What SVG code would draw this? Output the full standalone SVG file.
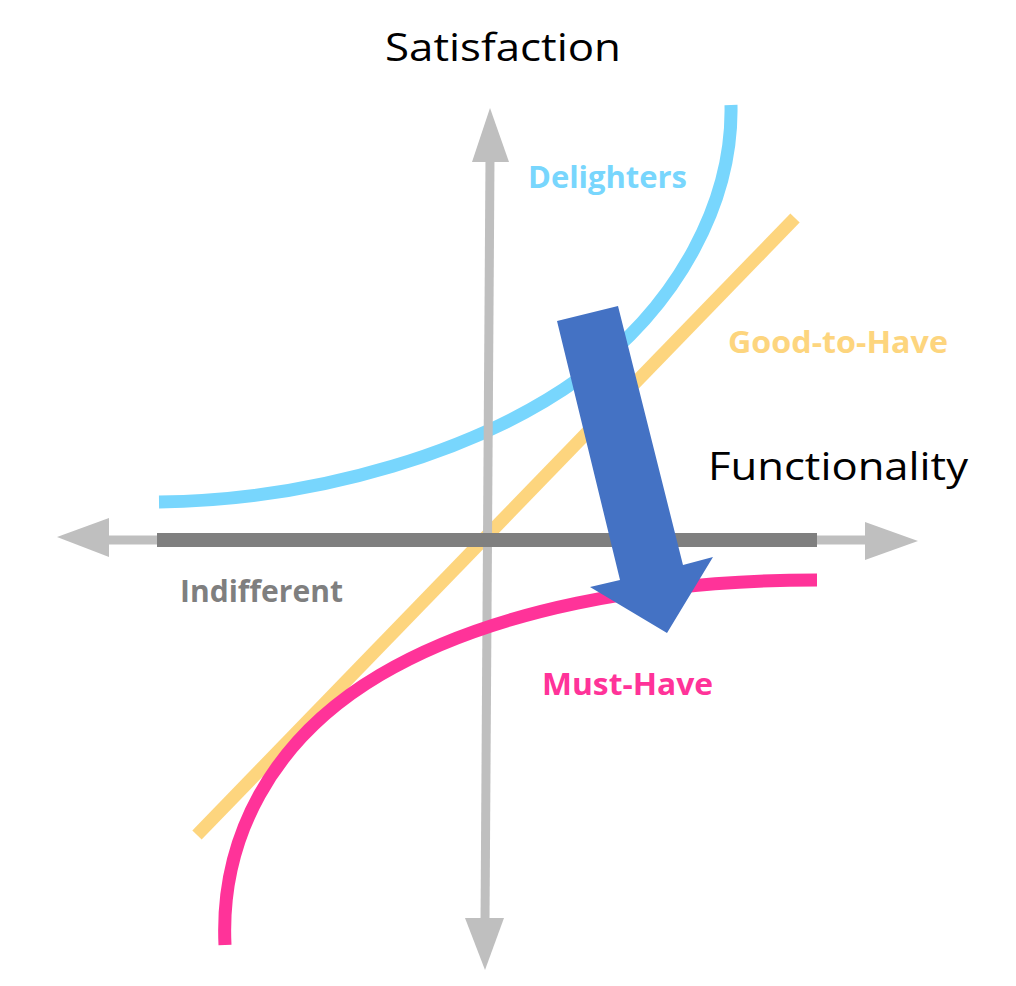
<svg xmlns="http://www.w3.org/2000/svg" width="1016" height="986" viewBox="0 0 1016 986">
<style>
.title{font-family:"Open Sans","Liberation Sans",sans-serif;font-size:39px;fill:#000}
.lbl{font-family:"Open Sans","Liberation Sans",sans-serif;font-size:31px;font-weight:bold}
.curve{fill:none;stroke-width:13;stroke-linecap:butt}
.axis{fill:#BFBFBF}
</style>
<rect width="1016" height="986" fill="#fff"/>
<g id="curves">
  <path id="delighters-curve" class="curve" stroke="#78D6FD" d="M159,502 C320,500 480,450 580,378 C680,305 733,200 731,105"/>
  <line id="good-to-have-line" x1="197" y1="835" x2="795" y2="218" stroke="#FDD57E" stroke-width="13"/>
</g>
<g id="axes">
  <line x1="105" y1="540" x2="868" y2="540" stroke="#BFBFBF" stroke-width="9"/>
  <polygon class="axis" points="57,537 109,518 109,557"/>
  <polygon class="axis" points="918,541 865,522 865,560"/>
  <line x1="490" y1="158" x2="485" y2="922" stroke="#BFBFBF" stroke-width="9"/>
  <polygon class="axis" points="490,108 472,162 509,162"/>
  <polygon class="axis" points="485,970 465,918 504,918"/>
  <rect id="indifferent-bar" x="157" y="533" width="660" height="14" fill="#7F7F7F"/>
</g>
<g id="must-have">
  <path class="curve" stroke="#FF3399" d="M225,945 C220,840 270,740 380,675 C490,610 650,580 817,580"/>
</g>
<g id="shift-arrow">
  <polygon points="557,321 618,306 683,565 713,557 667,633 590,587 620,580" fill="#4472C4"/>
</g>
<g id="labels">
  <text class="title" x="385" y="61" textLength="236" lengthAdjust="spacingAndGlyphs">Satisfaction</text>
  <text class="title" x="708" y="480" textLength="260" lengthAdjust="spacingAndGlyphs">Functionality</text>
  <text class="lbl" x="528" y="188" fill="#78D6FD" textLength="159" lengthAdjust="spacingAndGlyphs">Delighters</text>
  <text class="lbl" x="728" y="353" fill="#FDD57E" textLength="220" lengthAdjust="spacingAndGlyphs">Good-to-Have</text>
  <text class="lbl" x="180" y="602" fill="#7F7F7F" textLength="163" lengthAdjust="spacingAndGlyphs">Indifferent</text>
  <text class="lbl" x="542" y="695" fill="#FF3399" textLength="171" lengthAdjust="spacingAndGlyphs">Must-Have</text>
</g>
</svg>
